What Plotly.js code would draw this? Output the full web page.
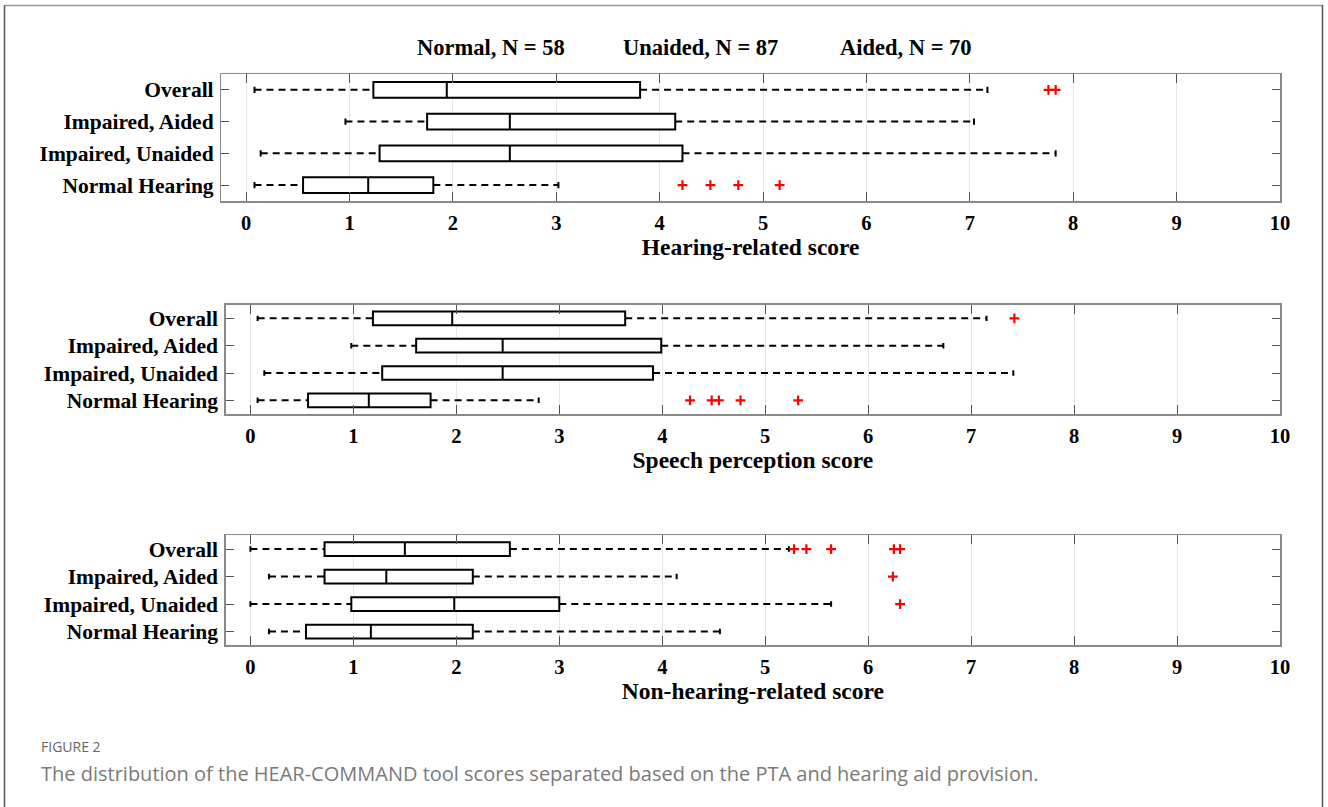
<!DOCTYPE html>
<html><head><meta charset="utf-8">
<script src="https://cdn.plot.ly/plotly-3.0.1.min.js"></script>
<style>html,body{margin:0;padding:0;background:#fff}#chart{width:1328px;height:807px}</style>
</head><body><div id="chart"></div>
<script>
// Categories, bottom to top
const categories = ['Normal Hearing', 'Impaired, Unaided', 'Impaired, Aided', 'Overall'];
const groupLabels = ['Normal, N = 58', 'Unaided, N = 87', 'Aided, N = 70'];
const panelTitles = ['Hearing-related score', 'Speech perception score', 'Non-hearing-related score'];
const xTicks = [0, 1, 2, 3, 4, 5, 6, 7, 8, 9, 10];
const figureLabel = 'FIGURE 2';
const captionText = 'The distribution of the HEAR-COMMAND tool scores separated based on the PTA and hearing aid provision.';

// Hearing-related score
const hearingLow = [0.08, 0.14, 0.96, 0.08];
const hearingQ1 = [0.55, 1.29, 1.75, 1.23];
const hearingMedian = [1.18, 2.55, 2.55, 1.94];
const hearingQ3 = [1.81, 4.22, 4.15, 3.81];
const hearingHigh = [3.02, 7.83, 7.04, 7.17];
const hearingOutliers = [[4.22, 4.49, 4.76, 5.16], [], [], [7.76, 7.83]];

// Speech perception score
const speechLow = [0.07, 0.135, 0.98, 0.07];
const speechQ1 = [0.56, 1.28, 1.61, 1.19];
const speechMedian = [1.15, 2.45, 2.45, 1.96];
const speechQ3 = [1.75, 3.91, 3.99, 3.64];
const speechHigh = [2.80, 7.41, 6.73, 7.15];
const speechOutliers = [[4.27, 4.48, 4.55, 4.76, 5.32], [], [], [7.42]];

// Non-hearing-related score
const nonHearingLow = [0.18, 0.0, 0.18, 0.0];
const nonHearingQ1 = [0.54, 0.98, 0.72, 0.72];
const nonHearingMedian = [1.17, 1.98, 1.32, 1.50];
const nonHearingQ3 = [2.16, 3.00, 2.16, 2.52];
const nonHearingHigh = [4.56, 5.64, 4.14, 5.23];
const nonHearingOutliers = [[], [6.31], [6.24], [5.28, 5.40, 5.64, 6.25, 6.31]];

const panels = [
  {low: hearingLow, q1: hearingQ1, med: hearingMedian, q3: hearingQ3, high: hearingHigh, out: hearingOutliers},
  {low: speechLow, q1: speechQ1, med: speechMedian, q3: speechQ3, high: speechHigh, out: speechOutliers},
  {low: nonHearingLow, q1: nonHearingQ1, med: nonHearingMedian, q3: nonHearingQ3, high: nonHearingHigh, out: nonHearingOutliers}
];

const W = 1328, H = 807;
const xDomains = [[221.4 / W, 1280 / W], [225.7 / W, 1280 / W], [225.7 / W, 1280 / W]];
const yDomains = [[1 - 201 / H, 1 - 74 / H], [1 - 414 / H, 1 - 304.7 / H], [1 - 645.3 / H, 1 - 535.3 / H]];

const serif = 'Liberation Serif, Times New Roman, serif';
const traces = [];
const layout = {
  width: W, height: H,
  margin: {l: 0, r: 0, t: 0, b: 0},
  paper_bgcolor: '#ffffff', plot_bgcolor: '#ffffff',
  showlegend: false,
  annotations: [], shapes: []
};

const pos = categories.map((c, i) => i + 1);
const capHalf = 0.1;

panels.forEach((p, k) => {
  const s = k === 0 ? '' : String(k + 1);
  const xa = 'x' + s, ya = 'y' + s;

  const wx = [], wy = [], cx = [], cy = [], ox = [], oy = [];
  pos.forEach((yv, i) => {
    wx.push(p.low[i], p.q1[i], null, p.q3[i], p.high[i], null);
    wy.push(yv, yv, null, yv, yv, null);
    cx.push(p.low[i], p.low[i], null, p.high[i], p.high[i], null);
    cy.push(yv - capHalf, yv + capHalf, null, yv - capHalf, yv + capHalf, null);
    p.out[i].forEach(v => { ox.push(v); oy.push(yv); });
  });
  traces.push({type: 'scatter', mode: 'lines', x: wx, y: wy, xaxis: xa, yaxis: ya,
    line: {color: '#000', width: 2, dash: '7px,5px'}, hoverinfo: 'skip'});
  traces.push({type: 'scatter', mode: 'lines', x: cx, y: cy, xaxis: xa, yaxis: ya,
    line: {color: '#000', width: 2}, hoverinfo: 'skip'});
  traces.push({type: 'box', orientation: 'h', y: pos, q1: p.q1, median: p.med, q3: p.q3,
    lowerfence: p.q1, upperfence: p.q3, width: 0.5, whiskerwidth: 0,
    fillcolor: '#ffffff', line: {color: '#000', width: 2}, boxpoints: false,
    xaxis: xa, yaxis: ya, hoverinfo: 'skip'});
  traces.push({type: 'scatter', mode: 'markers', x: ox, y: oy, xaxis: xa, yaxis: ya,
    marker: {symbol: 'cross-thin', size: 7, color: '#ff0000', line: {color: '#ff0000', width: 2.2}},
    hoverinfo: 'skip'});

  layout['xaxis' + s] = {
    domain: xDomains[k], anchor: ya, range: [-0.24, 10],
    tickvals: xTicks, ticktext: xTicks.map(String),
    ticks: 'inside', ticklen: 9, tickwidth: 1, tickcolor: '#555', mirror: 'ticks',
    showline: true, linecolor: '#8a8a8a', linewidth: 1.5,
    showgrid: true, gridcolor: '#e6e6e6', gridwidth: 1, zeroline: false,
    tickfont: {family: serif, size: 20.5, color: '#000', weight: 'bold'},
    ticklabelstandoff: 3,
    title: {text: panelTitles[k], font: {family: serif, size: 23.5, color: '#000', weight: 'bold'}, standoff: 5},
    fixedrange: true
  };
  layout['yaxis' + s] = {
    domain: yDomains[k], anchor: xa, range: [0.5, 4.5],
    tickvals: pos, ticktext: categories,
    ticks: 'inside', ticklen: 8, tickwidth: 1, tickcolor: '#555', mirror: 'ticks',
    showline: true, linecolor: '#8a8a8a', linewidth: 1.5,
    showgrid: false, zeroline: false,
    tickfont: {family: serif, size: 21.5, color: '#000', weight: 'bold'},
    ticklabelstandoff: 2,
    fixedrange: true
  };
});

// group header
const headerX = [491, 700, 906];
groupLabels.forEach((t, i) => {
  layout.annotations.push({text: t, xref: 'paper', yref: 'paper', x: headerX[i] / W, y: 1 - 48 / H,
    xanchor: 'center', yanchor: 'middle', showarrow: false,
    font: {family: serif, size: 22.5, color: '#000', weight: 'bold'}});
});

// caption
layout.annotations.push({text: figureLabel, xref: 'paper', yref: 'paper', x: 39 / W, y: 1 - 746 / H,
  xanchor: 'left', yanchor: 'middle', showarrow: false,
  font: {family: 'Open Sans, sans-serif', size: 14, color: '#666666'}});
layout.annotations.push({text: captionText, xref: 'paper', yref: 'paper', x: 39 / W, y: 1 - 773 / H,
  xanchor: 'left', yanchor: 'middle', showarrow: false,
  font: {family: 'Open Sans, sans-serif', size: 20, color: '#7a7a7a'}});

// outer frame (left, top, right)
layout.shapes.push({type: 'line', xref: 'paper', yref: 'paper', x0: 4.5 / W, x1: 4.5 / W, y0: 0, y1: 1 - 5 / H,
  line: {color: '#555', width: 1.5}});
layout.shapes.push({type: 'line', xref: 'paper', yref: 'paper', x0: 4.5 / W, x1: 1322.5 / W, y0: 1 - 5.5 / H, y1: 1 - 5.5 / H,
  line: {color: '#999', width: 1.5}});
layout.shapes.push({type: 'line', xref: 'paper', yref: 'paper', x0: 1322.5 / W, x1: 1322.5 / W, y0: 0, y1: 1 - 5 / H,
  line: {color: '#555', width: 1.5}});

Plotly.newPlot('chart', traces, layout, {displayModeBar: false, staticPlot: true});
</script>
</body></html>
